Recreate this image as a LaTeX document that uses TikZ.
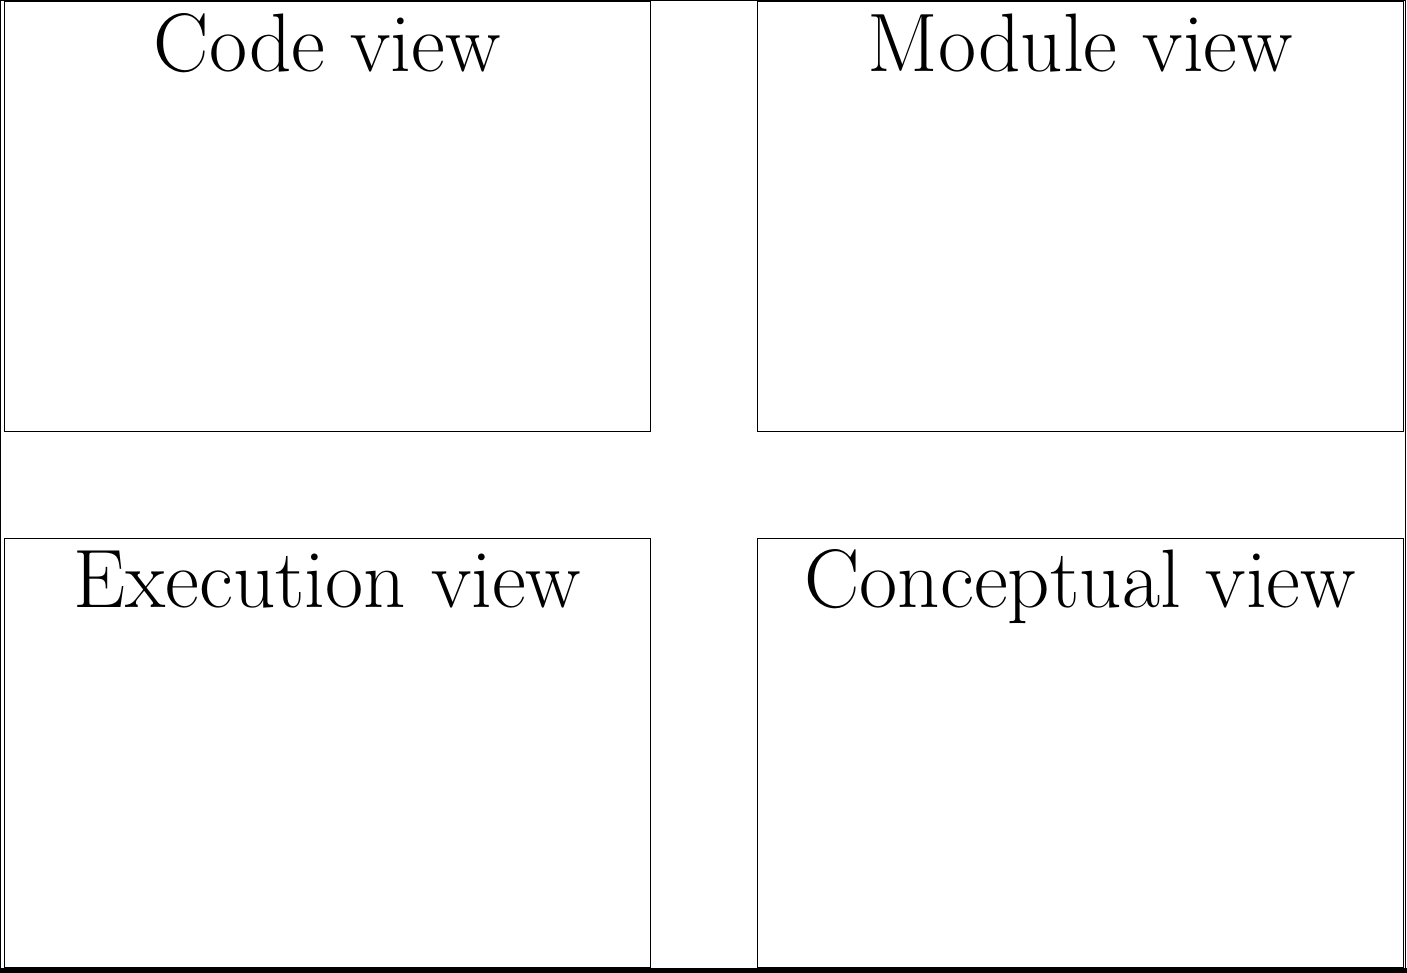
\documentclass[tikz,border=0pt]{standalone}
\begin{document}
\begin{tikzpicture}[x=1pt,y=1pt,
  viewbox/.style={draw, line width=1.1pt, inner sep=0pt, minimum width=646.2pt, minimum height=429.8pt, anchor=north west},
  viewtitle/.style={inner sep=0pt, anchor=base, font=\fontsize{83}{99}\selectfont}]
\useasboundingbox (0,0) rectangle (1407,-973);
% outer frame
\draw[line width=1pt] (0.5,-0.5) rectangle (1405.5,-970);
\draw[line width=5pt] (0,-970) -- (1407,-970);
% boxes
\node[viewbox] (code) at (3.6,-1.2) {};
\node[viewbox] (module) at (756.6,-1.2) {};
\node[viewbox] (exec) at (3.6,-537.6) {};
\node[viewbox] (concept) at (756.6,-537.6) {};
% titles
\node[viewtitle] (codet) at ([yshift=-70pt]code.north) {Code view};
\node[viewtitle] (modulet) at ([yshift=-70pt]module.north) {Module view};
\node[viewtitle] (exect) at ([yshift=-69.5pt]exec.north) {Execution view};
\node[viewtitle] (conceptt) at ([yshift=-69.5pt]concept.north) {Conceptual view};
\end{tikzpicture}
\end{document}
